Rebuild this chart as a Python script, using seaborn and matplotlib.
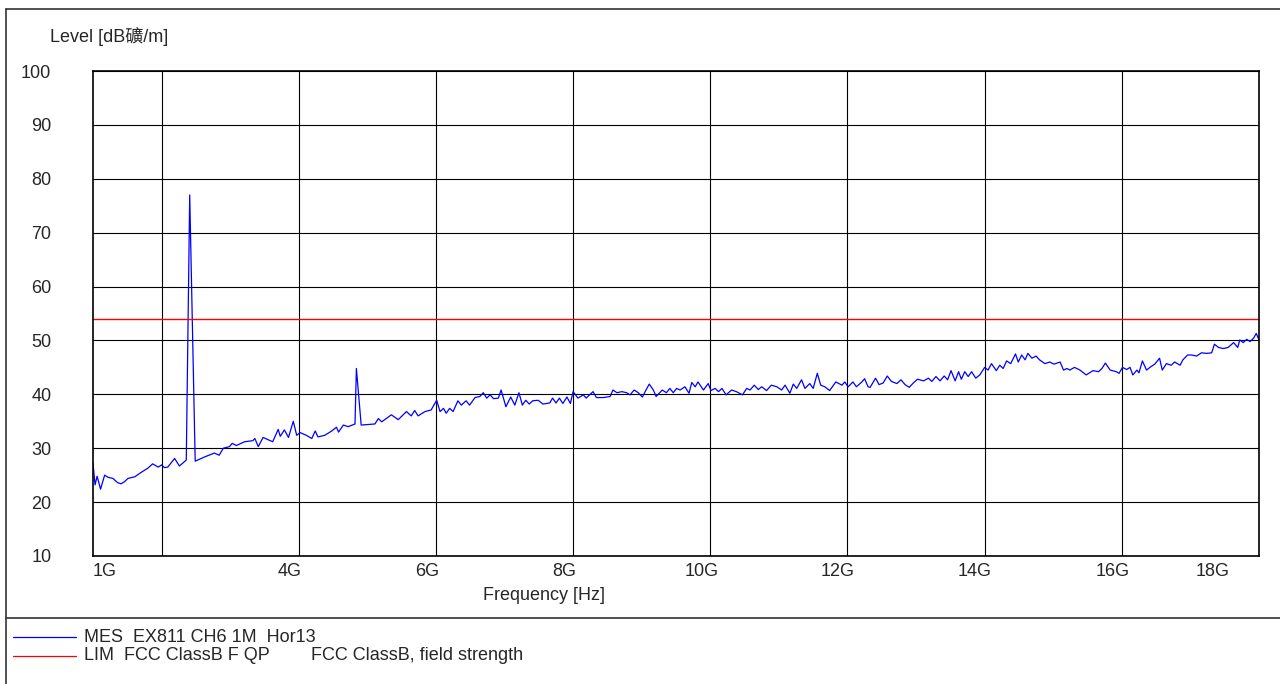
import pandas as pd
import matplotlib
matplotlib.use("Agg")
import matplotlib.pyplot as plt
import seaborn as sns
from matplotlib.lines import Line2D

sns.set_style("white")
plt.rcParams['font.family'] = ['Liberation Sans', 'Noto Sans CJK SC', 'DejaVu Sans']

freq_ghz = [
    1.00, 1.03, 1.06, 1.11, 1.17, 1.22, 1.29, 1.36, 1.41, 1.46, 1.51, 1.61, 1.70, 1.80,
    1.87, 1.95, 2.00, 2.04, 2.09, 2.19, 2.26, 2.36, 2.41, 2.49, 2.63, 2.77, 2.84, 2.90,
    2.99, 3.03, 3.09, 3.21, 3.33, 3.36, 3.41, 3.48, 3.62, 3.70, 3.73, 3.79, 3.85, 3.92,
    3.97, 4.02, 4.11, 4.19, 4.24, 4.28, 4.38, 4.48, 4.55, 4.58, 4.65, 4.72, 4.82, 4.84,
    4.91, 5.11, 5.16, 5.21, 5.35, 5.45, 5.57, 5.64, 5.69, 5.74, 5.84, 5.93, 6.01, 6.06,
    6.11, 6.15, 6.20, 6.25, 6.32, 6.37, 6.44, 6.49, 6.57, 6.64, 6.69, 6.74, 6.79, 6.84,
    6.91, 6.95, 7.02, 7.09, 7.15, 7.21, 7.26, 7.31, 7.36, 7.41, 7.49, 7.56, 7.66, 7.70,
    7.75, 7.80, 7.85, 7.91, 7.96, 8.00, 8.07, 8.15, 8.19, 8.29, 8.34, 8.44, 8.54, 8.58,
    8.64, 8.71, 8.78, 8.83, 8.89, 8.95, 9.01, 9.05, 9.11, 9.17, 9.21, 9.30, 9.36, 9.41,
    9.46, 9.51, 9.56, 9.63, 9.69, 9.73, 9.78, 9.82, 9.90, 9.97, 10.01, 10.07, 10.12, 10.17,
    10.23, 10.31, 10.38, 10.47, 10.53, 10.58, 10.64, 10.70, 10.75, 10.82, 10.89, 10.97,
    11.04, 11.09, 11.16, 11.21, 11.26, 11.33, 11.38, 11.45, 11.50, 11.56, 11.61, 11.67,
    11.74, 11.83, 11.92, 11.96, 12.01, 12.08, 12.13, 12.21, 12.25, 12.30, 12.33, 12.41,
    12.46, 12.52, 12.58, 12.64, 12.72, 12.78, 12.84, 12.90, 12.96, 13.02, 13.11, 13.18,
    13.23, 13.29, 13.35, 13.41, 13.46, 13.51, 13.57, 13.62, 13.66, 13.71, 13.76, 13.81,
    13.87, 13.93, 14.00, 14.05, 14.10, 14.17, 14.22, 14.27, 14.32, 14.38, 14.45, 14.49,
    14.54, 14.59, 14.63, 14.69, 14.75, 14.80, 14.88, 14.95, 15.01, 15.10, 15.15, 15.20,
    15.24, 15.31, 15.39, 15.48, 15.58, 15.66, 15.71, 15.76, 15.83, 15.92, 15.96, 16.01,
    16.07, 16.12, 16.16, 16.22, 16.25, 16.30, 16.36, 16.42, 16.48, 16.55, 16.59, 16.65,
    16.72, 16.77, 16.85, 16.89, 16.96, 17.02, 17.09, 17.16, 17.24, 17.31, 17.35, 17.41,
    17.48, 17.55, 17.63, 17.69, 17.72, 17.77, 17.82, 17.87, 17.92, 17.96, 18.00,
]
level_dbuv = [
    27.2, 23.2, 24.8, 22.4, 25.0, 24.6, 24.4, 23.6, 23.4, 23.8, 24.4, 24.7, 25.5, 26.3,
    27.1, 26.5, 26.9, 26.4, 26.5, 28.1, 26.7, 27.8, 77.0, 27.6, 28.4, 29.1, 28.7, 30.0,
    30.3, 30.9, 30.5, 31.2, 31.4, 31.8, 30.3, 32.0, 31.2, 33.5, 32.2, 33.4, 32.0, 35.0,
    32.4, 32.9, 32.4, 31.8, 33.2, 32.1, 32.4, 33.2, 33.9, 33.0, 34.3, 34.0, 34.5, 44.8,
    34.3, 34.5, 35.5, 34.9, 36.2, 35.3, 36.8, 36.0, 37.0, 36.0, 36.8, 37.1, 38.9, 36.8,
    37.4, 36.5, 37.4, 36.8, 38.8, 38.0, 38.8, 38.0, 39.4, 39.6, 40.3, 39.3, 39.9, 39.2,
    39.3, 40.8, 37.7, 39.5, 38.0, 40.3, 38.0, 38.9, 38.2, 38.8, 38.9, 38.2, 38.4, 39.3,
    38.4, 39.3, 38.3, 39.5, 38.3, 40.5, 39.3, 39.9, 39.3, 40.5, 39.4, 39.4, 39.6, 40.8,
    40.3, 40.5, 40.3, 39.9, 40.8, 40.3, 39.5, 40.5, 41.9, 40.8, 39.6, 40.8, 40.3, 41.1,
    40.3, 41.1, 40.8, 41.4, 40.2, 42.2, 41.4, 42.3, 40.8, 42.0, 40.7, 41.1, 40.5, 41.1,
    39.9, 40.8, 40.5, 39.9, 41.1, 40.8, 41.7, 40.9, 41.4, 40.7, 41.7, 41.4,
    40.8, 41.7, 40.2, 41.9, 41.1, 42.7, 41.1, 42.0, 41.1, 43.9, 41.7, 41.4,
    40.7, 42.3, 41.7, 42.3, 41.4, 42.3, 41.4, 42.3, 42.9, 41.4, 41.3, 43.0,
    41.8, 42.1, 43.4, 42.4, 42.0, 42.7, 41.8, 41.3, 42.1, 42.8, 42.5, 43.0,
    42.4, 43.3, 42.5, 43.4, 42.7, 44.4, 42.5, 44.2, 42.8, 44.2, 43.3, 44.2,
    43.0, 43.6, 45.0, 44.5, 45.7, 44.4, 45.4, 44.8, 46.2, 45.7, 47.5, 46.0,
    47.3, 46.4, 47.6, 46.7, 47.1, 46.4, 45.7, 46.0, 45.6, 46.0, 44.5, 44.8,
    44.5, 45.0, 44.5, 43.6, 44.4, 44.2, 44.8, 45.8, 44.5, 44.2, 43.9, 45.0,
    44.6, 45.0, 43.6, 44.5, 44.0, 46.2, 44.5, 45.1, 45.6, 46.7, 44.5, 45.7,
    45.4, 46.0, 45.4, 46.4, 47.3, 47.3, 47.1, 47.7, 47.6, 47.7, 49.3, 48.7,
    48.5, 48.7, 49.6, 48.7, 50.1, 49.6, 50.2, 49.8, 50.4, 51.3, 50.1,
]
limit_db = 54

y_ticks = [10, 20, 30, 40, 50, 60, 70, 80, 90, 100]
x_grid = [2, 4, 6, 8, 10, 12, 14, 16]
x_labels = ["1G", "4G", "6G", "8G", "10G", "12G", "14G", "16G", "18G"]
x_label_pos = [1.175, 3.87, 5.87, 7.87, 9.87, 11.86, 13.86, 15.86, 17.33]

W, H = 1280, 684
FS = 13

df = pd.DataFrame({"freq": freq_ghz, "level": level_dbuv})

fig = plt.figure(figsize=(W / 100, H / 100), dpi=100)
ax = fig.add_axes([93 / W, 1 - 556 / H, (1259 - 93) / W, (556 - 71) / H])

sns.lineplot(data=df, x="freq", y="level", ax=ax, color="#0000ff", lw=0.9,
             sort=False, estimator=None)
ax.axhline(limit_db, color="#ff0000", lw=1.0)

ax.set_xlim(1, 18)
ax.set_ylim(10, 100)
ax.set_xticks(x_grid)
ax.set_xticklabels([])
ax.set_yticks(y_ticks)
ax.tick_params(length=0)
ax.tick_params(axis="y", pad=30, labelsize=FS)
ax.grid(True, color="black", lw=0.8)
for s in ax.spines.values():
    s.set_color("black")
    s.set_linewidth(1.2)
ax.set_xlabel("")
ax.set_ylabel("")

# x labels sit a bit left of the grid lines in the original
for pos, lab in zip(x_label_pos, x_labels):
    ax.text(pos, -0.015, lab, transform=ax.get_xaxis_transform(),
            ha="center", va="top", fontsize=FS)

fig.text(544 / W, 1 - 596 / H, "Frequency [Hz]", ha="center", va="center", fontsize=FS)
fig.text(50 / W, 1 - 36 / H, "Level [dB礦/m]", ha="left", va="center", fontsize=FS)

# outer frame + separator
frame_c = "#333333"
fig.add_artist(Line2D([6 / W, 1], [1 - 9 / H] * 2, color=frame_c, lw=1.2, transform=fig.transFigure))
fig.add_artist(Line2D([6 / W] * 2, [0, 1 - 9 / H], color=frame_c, lw=1.2, transform=fig.transFigure))
fig.add_artist(Line2D([6 / W, 1], [1 - 618 / H] * 2, color=frame_c, lw=1.2, transform=fig.transFigure))

# legend block
fig.add_artist(Line2D([13 / W, 76 / W], [1 - 637 / H] * 2, color="#0000ff", lw=0.9, transform=fig.transFigure))
fig.add_artist(Line2D([13 / W, 76 / W], [1 - 656 / H] * 2, color="#ff0000", lw=0.9, transform=fig.transFigure))
fig.text(84 / W, 1 - 637 / H, "MES  EX811 CH6 1M  Hor13", ha="left", va="center", fontsize=FS)
fig.text(84 / W, 1 - 656 / H, "LIM  FCC ClassB F QP", ha="left", va="center", fontsize=FS)
fig.text(311 / W, 1 - 656 / H, "FCC ClassB, field strength", ha="left", va="center", fontsize=FS)

fig.savefig("out.png", dpi=100)
